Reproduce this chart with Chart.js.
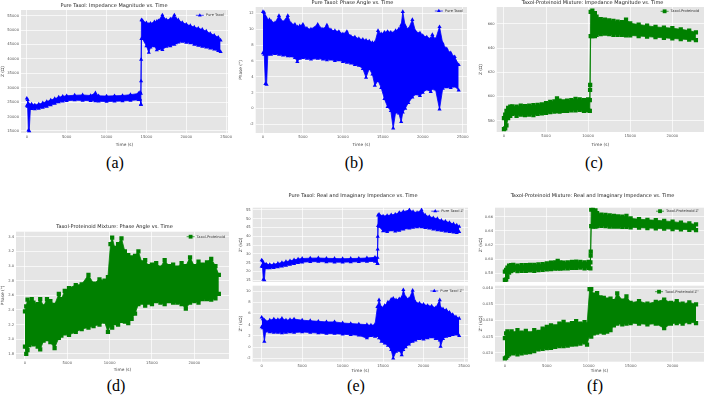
<!DOCTYPE html>
<html>
<head>
<meta charset="utf-8">
<script src="https://cdn.jsdelivr.net/npm/chart.js@4"></script>
<style>
body { margin: 0; background: #fff; width: 708px; height: 399px; position: relative; overflow: hidden; }
canvas { position: absolute; }
.cap { position: absolute; font-family: "Liberation Serif", "DejaVu Serif", serif; font-size: 16px; color: #000; transform: translate(-50%, -50%); white-space: nowrap; }
</style>
</head>
<body>
<div class="cap" style="left:115px;top:163px">(a)</div>
<div class="cap" style="left:354px;top:163px">(b)</div>
<div class="cap" style="left:594px;top:163px">(c)</div>
<div class="cap" style="left:116px;top:386px">(d)</div>
<div class="cap" style="left:356px;top:386px">(e)</div>
<div class="cap" style="left:595px;top:386px">(f)</div>
<script>
// ---- (a) Pure Taxol |Z| : band envelope over time (s)
const tA = [0,100,200,300,450,600,1000,1500,2000,2500,3000,3500,4000,4500,5000,6000,7000,8000,8600,9000,10000,11000,12000,13000,14000,14200,14300,14380,14500,15000,15300,15500,16000,16300,16500,17000,17500,18000,18500,18700,19000,19500,20000,20500,21000,21500,22000,22500,23000,23500,24000,24300];
const hiA = [26300,25800,24500,24000,23800,24300,24000,24300,24700,25200,25700,26200,26700,27000,27200,27400,27500,27300,28200,27200,27100,27200,27300,27600,28000,28400,28000,53500,53300,52500,52000,52300,52800,53000,53200,55200,53500,53800,55200,54000,53500,52600,52000,51500,51000,50600,50200,49600,48800,48200,47500,46500];
const loA = [23800,23500,15200,15000,22800,22700,22600,22800,23100,23500,24000,24500,25000,25300,25500,25700,25600,25500,25400,25300,25200,25300,25400,25600,25800,26000,24200,47000,47000,44500,42200,44000,44500,43100,43500,43200,44300,44500,45000,45500,45800,46000,45700,45500,45000,44600,44300,44000,43700,43300,42800,42500];
const jumpTA = [14320,14330,14340];
const jumpZA = [24200,32300,39800];

// ---- (b) Pure Taxol phase (deg)
const tB = [0,150,300,450,600,800,1000,1500,2000,2500,3100,3500,4000,4300,4600,5000,5500,6000,6850,7500,8000,8500,9000,9500,10000,10500,11000,11500,12000,12500,12900,13300,13700,14000,14400,14800,15200,15600,16000,16300,16600,17000,17300,17500,17800,18200,18700,19100,19650,20000,20500,21000,21200,21600,22100,22500,23000,23500,24000,24500];
const hiB = [12.2,12.1,11.6,11.3,11.0,11.2,11.0,10.8,11.7,10.9,11.7,10.7,10.6,10.3,10.4,10.6,10.1,10.0,10.6,10.0,10.5,9.9,9.8,9.7,9.4,9.7,9.1,9.0,8.8,8.7,8.6,8.5,8.3,8.3,9.8,9.4,9.6,9.7,9.6,9.5,9.8,10.0,10.5,12.2,10.4,10.0,11.2,9.7,9.5,9.2,9.0,8.8,9.3,8.7,10.3,8.2,7.5,7.0,6.5,5.5];
const loB = [7.0,6.8,3.1,3.0,6.8,6.9,6.8,6.9,6.8,6.7,6.6,6.6,6.4,5.9,6.3,6.4,6.3,6.2,6.3,6.2,6.1,6.2,6.0,6.1,5.9,5.8,5.7,5.5,5.4,5.0,3.9,5.0,4.3,2.9,3.5,2.6,1.2,0.2,-0.3,-2.5,-0.5,-0.6,-1.7,-0.5,0.0,0.7,1.4,1.8,1.6,2.0,2.4,2.1,2.5,2.4,-0.1,2.5,2.7,2.6,2.8,2.3];

// ---- (c) Taxol-Proteinoid |Z|
const tC = [0,150,300,500,750,1000,1500,2000,2500,3000,3500,4000,4500,5000,5500,6000,6300,6600,7000,7500,8000,8500,9000,9500,10000,10200,10300,10500,10800,11000,11500,12000,12500,13000,13500,14000,14500,15000,16000,17000,18000,19000,20000,21000,22000,22800];
const hiC = [582,585,588,590.5,591.5,591.8,591.5,592.5,592,592.5,592.8,593,593.5,594.5,595.5,596,598.5,596.5,596,596.5,597,598,597.5,597,597.5,597,670,671,669,666,664,663.5,663,662.5,662,661.5,663.5,660.5,659.5,658.5,657.5,657,656.5,655.5,654.5,653];
const loC = [573,573.5,576,582,584,585.5,584,585,584.5,585,584.5,585.5,586,586.5,587,587.5,588,587.5,588,588,588.5,588.5,589,588,588.5,588,650,650,650,651,651.5,652,651.5,651,651,651,650.5,650.5,650,649.5,649,648.5,648,647.5,647,646.5];
const jumpTC = [10230,10240];
const jumpZC = [605.5,609.5];

// ---- (d) Taxol-Proteinoid phase (deg)
const tD = [0,150,300,500,800,1000,1500,1800,2200,2600,3000,3500,4000,4300,4700,5200,6000,6700,7500,8100,8800,9400,9800,10100,10300,10600,11000,11400,11800,12200,12600,13000,13400,13800,14200,14600,15000,15500,16000,16500,17000,17500,18000,18500,19000,19500,20000,20500,21000,21500,22000,22500,22900];
const hiD = [2.38,2.45,2.54,2.50,2.55,2.50,2.48,2.55,2.45,2.55,2.52,2.47,2.62,2.55,2.66,2.70,2.74,2.75,2.88,2.76,2.82,2.80,2.85,3.30,3.39,3.25,3.30,3.38,3.20,3.15,3.12,3.14,3.20,3.05,3.08,3.00,3.02,3.04,2.98,3.08,3.00,3.02,2.98,3.04,3.00,3.12,3.00,3.06,3.02,3.05,3.10,3.00,2.88];
const loD = [1.90,1.80,1.85,1.92,1.95,1.93,1.90,1.86,1.98,2.00,1.96,1.88,2.02,2.05,2.08,2.06,2.10,2.14,2.16,2.18,2.20,2.24,2.10,2.20,2.16,2.22,2.20,2.25,2.24,2.22,2.28,2.35,2.48,2.50,2.46,2.50,2.48,2.52,2.50,2.48,2.52,2.50,2.50,2.48,2.42,2.50,2.52,2.50,2.55,2.55,2.54,2.56,2.62];

// ---- (e) Pure Taxol Z' and Z'' (kOhm)
const tEu = [0,100,200,330,450,600,1000,1500,2000,2500,3000,3500,4000,4500,5000,6000,7000,8000,9000,10000,11000,12000,13000,14000,14300,14380,14500,15000,15500,16000,16500,17000,17500,18250,18700,19200,19750,20200,20700,21200,21700,22200,22700,23200,23700,24100,24400];
const hiEu = [26.4,25.8,24.5,24.0,23.8,24.0,23.8,24.0,24.5,25.0,25.5,26.0,26.5,27.0,27.3,27.5,27.6,27.4,27.3,27.2,27.3,27.4,27.6,28.0,27.8,52.0,52.5,51.5,51.8,52.2,52.5,53.5,54.0,55.0,54.0,53.5,55.0,52.0,51.2,50.5,50.0,49.0,48.5,47.8,47.0,46.3,45.5];
const loEu = [22.8,22.6,15.3,15.0,22.0,21.8,21.8,22.0,22.4,22.8,23.3,23.8,24.3,24.8,25.2,25.4,25.5,25.3,25.2,25.2,25.3,25.4,25.5,25.6,24.3,46.0,45.5,43.0,42.5,43.5,42.8,43.2,44.0,44.5,45.0,45.3,45.2,44.8,44.5,44.0,43.6,43.2,42.8,42.5,42.2,42.0,42.5];
const jumpTE = [14320,14330,14340];
const jumpZE = [24.5,32.5,39.8];
const tEl = [0,150,330,500,1000,1500,2000,2500,3000,3500,4000,5000,6000,7000,8000,9000,10000,11000,12000,13000,13500,14000,14300,14500,14800,15200,15600,16000,16250,16600,17000,17300,17500,17800,18200,18650,19000,19500,20000,20500,21000,21500,22000,22100,22400,22800,23200,23600,24000,24400];
const hiEl = [5.3,5.0,4.8,4.6,4.8,5.0,4.9,5.1,4.8,4.9,5.0,4.8,4.7,4.6,4.5,4.5,4.3,4.2,4.1,4.0,3.9,4.0,7.2,8.4,7.0,7.4,8.0,8.5,8.7,8.4,8.6,8.8,10.2,8.8,8.6,10.1,8.0,7.8,7.6,7.4,7.3,7.0,8.4,7.0,6.8,6.6,6.2,5.8,5.4,5.1];
const loEl = [3.6,3.4,1.0,2.8,2.7,2.6,2.6,2.5,2.6,2.7,2.6,2.7,2.6,2.5,2.4,2.4,2.3,2.2,2.1,1.6,2.0,1.9,2.0,1.6,1.0,0.7,0.3,-0.5,-2.0,-0.8,-0.6,-1.4,-0.5,0.0,0.5,1.0,1.2,1.5,1.4,1.6,1.8,1.5,1.2,0.1,1.5,1.9,2.0,2.2,2.3,2.0];

// ---- (f) Taxol-Proteinoid Z' and Z'' (kOhm)
const tFu = [0,150,300,500,750,1000,1500,2000,2500,3000,3500,4000,4500,5000,5500,6000,6300,6600,7000,7500,8000,8500,9000,9500,10000,10200,10300,10500,10800,11000,11500,12000,12500,13000,13500,14000,14500,15000,16000,17000,18000,19000,20000,21000,22000,22800];
const hiFu = [0.5824,0.585,0.588,0.591,0.5915,0.592,0.591,0.5915,0.5915,0.592,0.592,0.5925,0.593,0.594,0.595,0.5955,0.5975,0.5955,0.595,0.5955,0.596,0.5965,0.596,0.5955,0.596,0.5955,0.670,0.6705,0.669,0.665,0.663,0.6625,0.662,0.661,0.6605,0.660,0.661,0.6576,0.6565,0.6555,0.655,0.654,0.653,0.6515,0.6505,0.649];
const loFu = [0.5706,0.571,0.575,0.581,0.583,0.5845,0.583,0.5835,0.5835,0.584,0.5835,0.5845,0.585,0.5855,0.586,0.5865,0.587,0.5865,0.587,0.587,0.5875,0.5875,0.588,0.587,0.5875,0.587,0.6465,0.646,0.646,0.6465,0.647,0.6465,0.646,0.646,0.646,0.6455,0.6455,0.645,0.6445,0.644,0.6435,0.643,0.6425,0.642,0.6415,0.641];
const jumpTF = [10230,10240];
const jumpZF = [0.605,0.6106];
const tFl = [0,150,300,500,800,1000,1500,2000,2500,3000,3500,4000,4500,5000,5500,6000,6500,7000,7500,8000,8500,9000,9500,9800,10100,10300,10600,11000,11400,11800,12200,12600,13000,13400,14000,14500,15000,16000,17000,18000,19000,19800,20500,21200,22000,22800];
const hiFl = [0.0245,0.026,0.0266,0.026,0.0266,0.026,0.027,0.0262,0.0268,0.026,0.027,0.0265,0.0275,0.028,0.0285,0.0282,0.029,0.0296,0.0288,0.0292,0.0298,0.029,0.0295,0.0288,0.0397,0.0397,0.038,0.0385,0.0372,0.037,0.0365,0.0368,0.036,0.0384,0.0362,0.0375,0.0355,0.036,0.0352,0.0358,0.0365,0.0355,0.036,0.0352,0.0356,0.035];
const loFl = [0.0182,0.0185,0.019,0.0195,0.02,0.0198,0.0195,0.0198,0.02,0.0202,0.0205,0.021,0.0212,0.0214,0.0215,0.0218,0.022,0.022,0.0222,0.0225,0.0226,0.0228,0.0232,0.0225,0.0255,0.025,0.026,0.0262,0.0265,0.0262,0.0265,0.027,0.0285,0.029,0.0288,0.029,0.0292,0.029,0.0288,0.029,0.0276,0.029,0.0292,0.029,0.0295,0.0292];

// ---- ticks
const xTicks25 = [0,5000,10000,15000,20000,25000];
const xTicks20 = [0,5000,10000,15000,20000];
const yTicksA = [15000,20000,25000,30000,35000,40000,45000,50000,55000];
const yTicksB = [-2,0,2,4,6,8,10,12];
const yTicksC = [580,600,620,640,660];
const yTicksD = [1.8,2.0,2.2,2.4,2.6,2.8,3.0,3.2,3.4];
const yTicksEu = [15,20,25,30,35,40,45,50,55];
const yTicksEl = [-2,0,2,4,6,8,10];
const yTicksFu = [0.58,0.60,0.62,0.64,0.66];
const yTicksFl = [0.020,0.025,0.030,0.035,0.040];

const BLUE = '#0000ff';
const GREEN = '#008000';
Chart.defaults.font.family = '"DejaVu Sans", sans-serif';

const plotBg = {
    id: 'plotBg',
    beforeDraw(chart) {
        const a = chart.chartArea, ctx = chart.ctx;
        ctx.save();
        ctx.fillStyle = '#e5e5e5';
        ctx.fillRect(a.left, a.top, a.right - a.left, a.bottom - a.top);
        ctx.restore();
    }
};

// legend drawn inside the plot, top right, like matplotlib's
const legendIn = {
    id: 'legendIn',
    afterDraw(chart, args, opts) {
        const ds = chart.data.datasets.find(d => d.label);
        if (!ds) return;
        const a = chart.chartArea, ctx = chart.ctx;
        ctx.save();
        ctx.font = '3.6px "DejaVu Sans"';
        const tw = ctx.measureText(ds.label).width;
        const yc = a.top + opts.dy;
        const x0 = a.right - opts.dr - tw - 11;
        ctx.strokeStyle = ds.borderColor;
        ctx.fillStyle = ds.borderColor;
        ctx.lineWidth = 0.7;
        ctx.beginPath(); ctx.moveTo(x0, yc); ctx.lineTo(x0 + 8, yc); ctx.stroke();
        Chart.helpers.drawPoint(ctx, { pointStyle: ds.pointStyle, radius: ds.pointRadius * 0.9, borderWidth: 0, rotation: 0 }, x0 + 4, yc);
        ctx.fillStyle = '#333';
        ctx.textBaseline = 'middle';
        ctx.fillText(ds.label, x0 + 10, yc);
        ctx.restore();
    }
};

function pts(t, v) { return t.map((x, i) => ({ x: x, y: v[i] })); }

function panel(p) {
    const titleBlock = p.title ? 6 + (p.titleGap - 3) : 0;
    const top = Math.floor(p.T - Math.max(titleBlock, 6));
    const bottom = Math.round(p.CB);
    const cv = document.createElement('canvas');
    cv.width = p.CR - p.CL;
    cv.height = bottom - top;
    cv.style.left = p.CL + 'px';
    cv.style.top = top + 'px';
    document.body.appendChild(cv);

    const look = {
        borderColor: p.color, backgroundColor: p.color, borderWidth: 0.8,
        pointStyle: p.marker, pointRadius: p.r, pointBorderWidth: 0, showLine: true
    };
    const ds = [
        Object.assign({ label: '', data: pts(p.t, p.lo), fill: false }, look),
        Object.assign({ label: p.label, data: pts(p.t, p.hi), fill: '-1' }, look)
    ];
    if (p.jt) ds.push(Object.assign({ label: '', data: pts(p.jt, p.jv), fill: false }, look, { showLine: false }));

    const showX = p.xTitle != null;
    new Chart(cv, {
        type: 'scatter',
        data: { datasets: ds },
        options: {
            responsive: false,
            animation: false,
            events: [],
            layout: { padding: { left: 0, right: p.CR - p.R, top: p.T - top - titleBlock, bottom: 0 } },
            plugins: {
                legend: { display: false },
                tooltip: { enabled: false },
                title: p.title
                    ? { display: true, text: p.title, color: '#222', font: { size: 5, weight: 'normal' }, padding: { top: 0, bottom: p.titleGap - 3 } }
                    : { display: false },
                legendIn: { dy: p.legDy, dr: p.legDr }
            },
            scales: {
                x: {
                    type: 'linear', min: p.xr[0], max: p.xr[1],
                    afterBuildTicks: s => { s.ticks = p.xt.map(v => ({ value: v })); },
                    afterFit: s => { s.height = bottom - p.B; },
                    grid: { color: '#ffffff', lineWidth: 0.7, drawTicks: false },
                    border: { display: false },
                    ticks: { display: showX, color: '#555', font: { size: 3.7 }, padding: 2, maxRotation: 0, autoSkip: false, callback: v => String(v) },
                    title: { display: showX, text: p.xTitle, color: '#444', font: { size: 4.3 }, padding: { top: 0, bottom: 1 } }
                },
                y: {
                    type: 'linear', min: p.yr[0], max: p.yr[1],
                    afterBuildTicks: s => { s.ticks = p.yt.map(v => ({ value: v })); },
                    afterFit: s => { s.width = p.L - p.CL; },
                    grid: { color: '#ffffff', lineWidth: 0.7, drawTicks: false },
                    border: { display: false },
                    ticks: { color: '#555', font: { size: 3.7 }, padding: 2, autoSkip: false, callback: v => p.fmt(v) },
                    title: { display: true, text: p.yTitle, color: '#444', font: { size: 4.3 }, padding: { top: 0.5, bottom: 0 } }
                }
            }
        },
        plugins: [plotBg, legendIn]
    });
}

const intFmt = v => String(Math.round(v));

panel({ CL: 0, CR: 236, CB: 148, L: 21, T: 10, R: 228, B: 133, title: 'Pure Taxol: Impedance Magnitude vs. Time', titleGap: 4,
    t: tA, hi: hiA, lo: loA, jt: jumpTA, jv: jumpZA, color: BLUE, marker: 'triangle', r: 2.4, label: 'Pure Taxol',
    xr: [-730, 25230], yr: [14300, 56970], xt: xTicks25, yt: yTicksA, fmt: intFmt, xTitle: 'Time (s)', yTitle: 'Z (Ω)', legDy: 5.3, legDr: 3 });

panel({ CL: 238, CR: 476, CB: 148, L: 255.7, T: 7, R: 467, B: 133, title: 'Pure Taxol: Phase Angle vs. Time', titleGap: 4.5,
    t: tB, hi: hiB, lo: loB, color: BLUE, marker: 'triangle', r: 2.4, label: 'Pure Taxol',
    xr: [-915, 25540], yr: [-3.1, 12.8], xt: xTicks25, yt: yTicksB, fmt: intFmt, xTitle: 'Time (s)', yTitle: 'Phase (°)', legDy: 4, legDr: 3 });

panel({ CL: 478, CR: 708, CB: 148, L: 496.7, T: 7, R: 707, B: 132, title: 'Taxol-Proteinoid Mixture: Impedance Magnitude vs. Time', titleGap: 4.5,
    t: tC, hi: hiC, lo: loC, jt: jumpTC, jv: jumpZC, color: GREEN, marker: 'rect', r: 3.0, label: 'Taxol-Proteinoid',
    xr: [-860, 23760], yr: [570.6, 674], xt: xTicks20, yt: yTicksC, fmt: intFmt, xTitle: 'Time (s)', yTitle: 'Z (Ω)', legDy: 4.3, legDr: 4 });

panel({ CL: 0, CR: 236, CB: 373, L: 16, T: 231.7, R: 229, B: 359, title: 'Taxol-Proteinoid Mixture: Phase Angle vs. Time', titleGap: 4.7,
    t: tD, hi: hiD, lo: loD, color: GREEN, marker: 'rect', r: 3.0, label: 'Taxol-Proteinoid',
    xr: [-1060, 24100], yr: [1.73, 3.47], xt: xTicks20, yt: yTicksD, fmt: v => v.toFixed(1), xTitle: 'Time (s)', yTitle: 'Phase (°)', legDy: 5, legDr: 3 });

panel({ CL: 238, CR: 476, CB: 287, L: 252.7, T: 207.7, R: 468, B: 282, title: 'Pure Taxol: Real and Imaginary Impedance vs. Time', titleGap: 11.7,
    t: tEu, hi: hiEu, lo: loEu, jt: jumpTE, jv: jumpZE, color: BLUE, marker: 'triangle', r: 2.4, label: "Pure Taxol Z'",
    xr: [-1110, 25490], yr: [13.9, 56.3], xt: xTicks25, yt: yTicksEu, fmt: intFmt, xTitle: null, yTitle: "Z' (kΩ)", legDy: 3.5, legDr: 3 });

panel({ CL: 238, CR: 476, CB: 374, L: 252.7, T: 285.7, R: 468, B: 361.7,
    t: tEl, hi: hiEl, lo: loEl, color: BLUE, marker: 'triangle', r: 2.4, label: "Pure Taxol Z''",
    xr: [-1110, 25490], yr: [-2.6, 10.95], xt: xTicks25, yt: yTicksEl, fmt: intFmt, xTitle: 'Time (s)', yTitle: "Z'' (kΩ)", legDy: 5.3, legDr: 3 });

panel({ CL: 478, CR: 708, CB: 287, L: 495, T: 207.7, R: 707, B: 282, title: 'Taxol-Proteinoid Mixture: Real and Imaginary Impedance vs. Time', titleGap: 11.7,
    t: tFu, hi: hiFu, lo: loFu, jt: jumpTF, jv: jumpZF, color: GREEN, marker: 'rect', r: 3.0, label: "Taxol-Proteinoid Z'",
    xr: [-1180, 23750], yr: [0.5677, 0.6727], xt: xTicks20, yt: yTicksFu, fmt: v => v.toFixed(2), xTitle: null, yTitle: "Z' (kΩ)", legDy: 3.5, legDr: 4 });

panel({ CL: 478, CR: 708, CB: 374, L: 495, T: 285.7, R: 707, B: 361.7,
    t: tFl, hi: hiFl, lo: loFl, color: GREEN, marker: 'rect', r: 3.0, label: "Taxol-Proteinoid Z''",
    xr: [-1180, 23750], yr: [0.0172, 0.0408], xt: xTicks20, yt: yTicksFl, fmt: v => v.toFixed(3), xTitle: 'Time (s)', yTitle: "Z'' (kΩ)", legDy: 6, legDr: 4 });
</script>
</body>
</html>
